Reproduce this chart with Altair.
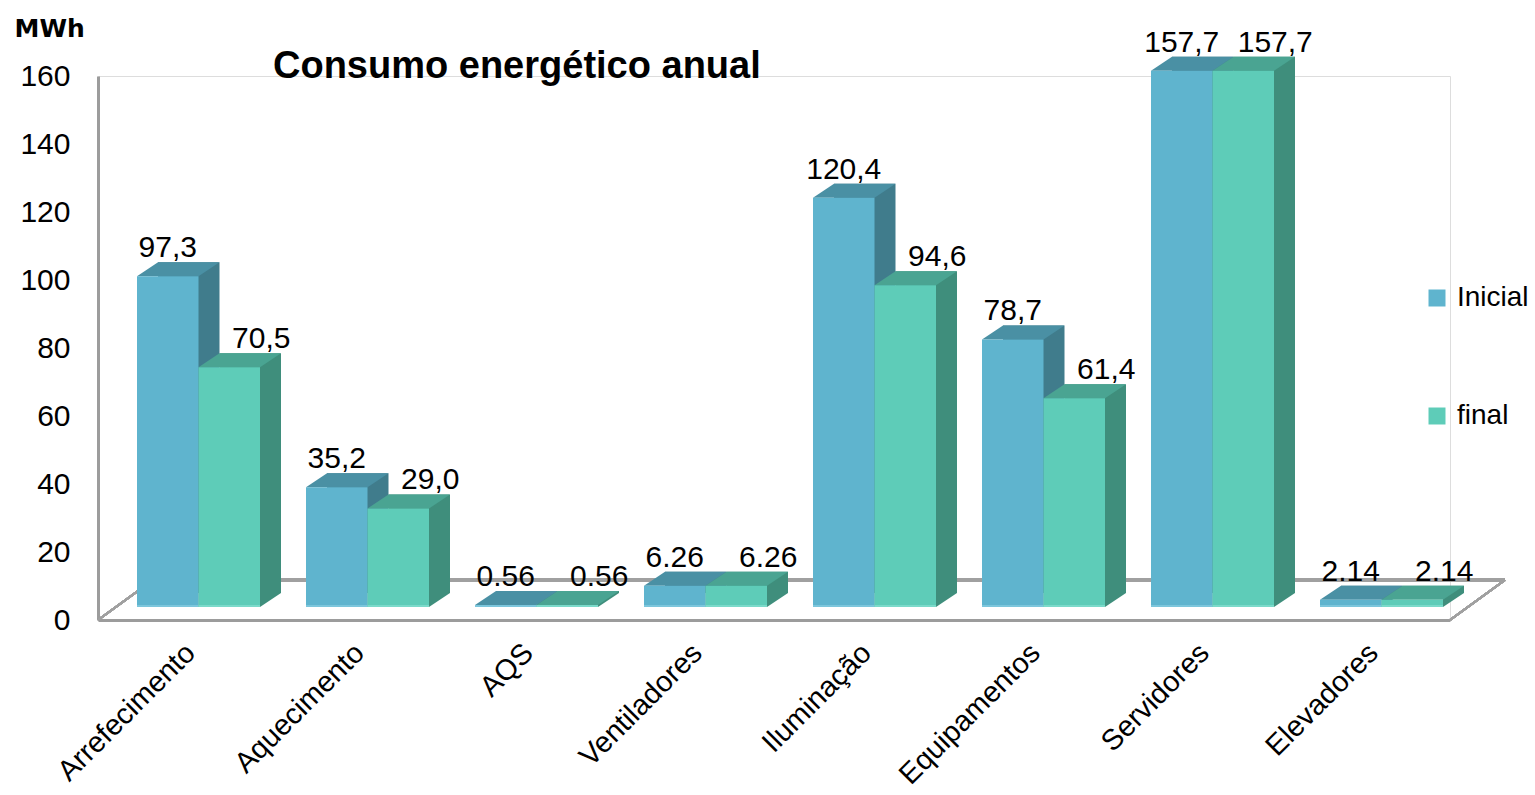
import altair as alt
import pandas as pd

categorias = ["Arrefecimento", "Aquecimento", "AQS", "Ventiladores",
              "Iluminação", "Equipamentos", "Servidores", "Elevadores"]
inicial = [97.3, 35.2, 0.56, 6.26, 120.4, 78.7, 157.7, 2.14]
final = [70.5, 29.0, 0.56, 6.26, 94.6, 61.4, 157.7, 2.14]
rotulos_inicial = ["97,3", "35,2", "0.56", "6.26", "120,4", "78,7", "157,7", "2.14"]
rotulos_final = ["70,5", "29,0", "0.56", "6.26", "94,6", "61,4", "157,7", "2.14"]
series = ["Inicial", "final"]
y_ticks = [0, 20, 40, 60, 80, 100, 120, 140, 160]
titulo = "Consumo energético anual"

rows = []
for c, v, r in zip(categorias, inicial, rotulos_inicial):
    rows.append({"categoria": c, "serie": "Inicial", "valor": v, "rotulo": r})
for c, v, r in zip(categorias, final, rotulos_final):
    rows.append({"categoria": c, "serie": "final", "valor": v, "rotulo": r})
df = pd.DataFrame(rows)

W, H = 1352, 544
BW = 61.5
DX, DY = 21, 14        # bar depth
FX, FY = 16, 13        # floor depth offset of bar fronts
FONT = "Liberation Sans"

front_col = {"Inicial": "#5FB4CE", "final": "#5ECCB8"}
top_col = {"Inicial": "#4A90A4", "final": "#4AA492"}
side_col = {"Inicial": "#407C8C", "final": "#3F8E7C"}
center_off = {"Inicial": -BW / 2 + FX, "final": BW / 2 + FX}
label_dx = {"Inicial": -BW / 2 + FX, "final": BW / 2 + FX + 32}

xscale = alt.Scale(domain=categorias, paddingInner=0.272, paddingOuter=0.136)
yscale = alt.Scale(domain=[0, 160], nice=False)

base = alt.Chart(df)

x_enc = alt.X("categoria:N", scale=xscale, sort=categorias,
              axis=alt.Axis(title=None, labelAngle=-45, labelAlign="right",
                            labelBaseline="middle", labelFontSize=29, labelFont=FONT,
                            labelColor="#000", labelPadding=28, labelOffset=8,
                            ticks=False, domainColor="#9c9c9c", domainWidth=3,
                            labelLimit=400))
y_enc = alt.Y("valor:Q", scale=yscale,
              axis=alt.Axis(values=y_ticks, title="MWh", titleAngle=0, titleAlign="left",
                            titleBaseline="alphabetic", titleX=-84, titleY=-40,
                            titleFont="DejaVu Sans", titleFontWeight="bold",
                            titleFontSize=25, titleColor="#000",
                            labelFontSize=30, labelFont=FONT, labelColor="#000",
                            labelPadding=28, ticks=False, grid=False,
                            domainColor="#9c9c9c", domainWidth=3))

# floor outline (decoration)
floor_col = "#a0a0a0"
back_line = alt.Chart(df).mark_rule(color=floor_col, strokeWidth=2.5).encode(
    x=alt.value(55), x2=alt.value(W + 55), y=alt.value(H - 40))
left_diag = alt.Chart(df).mark_rule(color=floor_col, strokeWidth=2).encode(
    x=alt.value(0), y=alt.value(H), x2=alt.value(55), y2=alt.value(H - 40))
right_diag = alt.Chart(df).mark_rule(color=floor_col, strokeWidth=2).encode(
    x=alt.value(W), y=alt.value(H), x2=alt.value(W + 55), y2=alt.value(H - 40))

layers = [back_line, left_diag, right_diag]

top_path = "M {a} 0 L {b} 0 L {c} -{d} L {e} -{d} Z".format(
    a=-BW / 2, b=BW / 2, c=BW / 2 + DX, d=DY, e=-BW / 2 + DX)
tri_path = "M {a} 0 L {a} -{d} L {c} -{d} Z".format(a=BW / 2, c=BW / 2 + DX, d=DY)
edge_path = "M {a} 0 L {b} 0 L {b} -2 L {a} -2 Z".format(a=-BW / 2, b=BW / 2)
edge_col = {"Inicial": "#7CC6DC", "final": "#7BDACA"}

for s in series:
    layers.append(base.transform_filter(alt.datum.serie == s).mark_bar(
        width=BW, xOffset=center_off[s] + DX, yOffset=-(FY + DY), y2Offset=-(FY + DY),
        color=side_col[s]).encode(x=x_enc, y=y_enc))
    layers.append(base.transform_filter(alt.datum.serie == s).mark_point(
        shape=tri_path, size=4, filled=True, opacity=1, strokeWidth=0,
        xOffset=center_off[s], yOffset=-FY, color=side_col[s]).encode(
        x=x_enc, y=alt.datum(0)))
for s in series:
    layers.append(base.transform_filter(alt.datum.serie == s).mark_point(
        shape=top_path, size=4, filled=True, opacity=1, strokeWidth=0,
        xOffset=center_off[s], yOffset=-FY, color=top_col[s]).encode(x=x_enc, y=y_enc))
for s in series:
    layers.append(base.transform_filter(alt.datum.serie == s).mark_bar(
        width=BW, xOffset=center_off[s], yOffset=-FY, y2Offset=-FY).encode(
        x=x_enc, y=y_enc,
        color=alt.Color("serie:N", scale=alt.Scale(domain=series,
                                                   range=[front_col[k] for k in series]),
                        legend=alt.Legend(title=None, orient="none", legendX=1325,
                                          legendY=208, symbolType="square",
                                          symbolSize=289, symbolStrokeWidth=0,
                                          labelFontSize=28, labelFont=FONT,
                                          labelColor="#000", labelOffset=6,
                                          rowPadding=90, padding=0))))
    layers.append(base.transform_filter(alt.datum.serie == s).mark_point(
        shape=edge_path, size=4, filled=True, opacity=1, strokeWidth=0,
        xOffset=center_off[s], yOffset=-FY, color=edge_col[s]).encode(
        x=x_enc, y=alt.datum(0)))
for s in series:
    layers.append(base.transform_filter(alt.datum.serie == s).mark_text(
        dx=label_dx[s], dy=-32, baseline="alphabetic", align="center",
        fontSize=30, font=FONT, color="#000").encode(
        x=x_enc, y=y_enc, text="rotulo:N"))

title_layer = alt.Chart(pd.DataFrame({"t": [titulo]})).mark_text(
    align="left", baseline="alphabetic", font=FONT, fontSize=38, fontWeight="bold",
    color="#000").encode(x=alt.value(175), y=alt.value(2), text="t:N")
layers.append(title_layer)

chart = alt.layer(*layers).properties(
    width=W, height=H,
    autosize=alt.AutoSizeParams(type="none"),
    padding={"left": 98, "top": 76, "right": 85, "bottom": 175},
).configure_view(stroke=None).configure(background="#ffffff")

chart.save("out.html", embed_options={"renderer": "svg", "actions": False})
